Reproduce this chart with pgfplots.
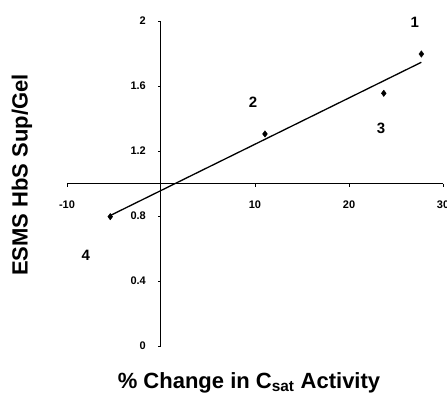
\documentclass[border=0pt]{standalone}
\usepackage{pgfplots}
\pgfplotsset{compat=1.18}
\usepackage{fontspec}
\setmainfont{Liberation Sans}
\begin{document}
\begin{tikzpicture}
\useasboundingbox (-161pt,-48pt) rectangle (286pt,346pt);
\begin{axis}[
  anchor=origin, at={(0pt,0pt)},
  x=9.4pt, y=162.5pt,
  xmin=-10, xmax=30, ymin=0, ymax=2,
  hide axis, clip=false,
]
% axis lines
\draw[line width=1pt] (axis cs:-10,1) -- (axis cs:30,1);
\draw[line width=1pt] (axis cs:0,0) -- (axis cs:0,2);
% y ticks
\draw[line width=0.6pt] (axis cs:0,0) -- ++(-3pt,0pt);
\draw[line width=0.6pt] (axis cs:0,0.4) -- ++(-3pt,0pt);
\draw[line width=0.6pt] (axis cs:0,0.8) -- ++(-3pt,0pt);
\draw[line width=0.6pt] (axis cs:0,1.2) -- ++(-3pt,0pt);
\draw[line width=0.6pt] (axis cs:0,1.6) -- ++(-3pt,0pt);
\draw[line width=0.6pt] (axis cs:0,2) -- ++(-3pt,0pt);
\node[anchor=east,inner sep=0pt,xshift=-15pt,font=\fontsize{11}{12}\selectfont\bfseries] at (axis cs:0,0) {0};
\node[anchor=east,inner sep=0pt,xshift=-15pt,font=\fontsize{11}{12}\selectfont\bfseries] at (axis cs:0,0.4) {0.4};
\node[anchor=east,inner sep=0pt,xshift=-15pt,font=\fontsize{11}{12}\selectfont\bfseries] at (axis cs:0,0.8) {0.8};
\node[anchor=east,inner sep=0pt,xshift=-15pt,font=\fontsize{11}{12}\selectfont\bfseries] at (axis cs:0,1.2) {1.2};
\node[anchor=east,inner sep=0pt,xshift=-15pt,font=\fontsize{11}{12}\selectfont\bfseries] at (axis cs:0,1.6) {1.6};
\node[anchor=east,inner sep=0pt,xshift=-15pt,font=\fontsize{11}{12}\selectfont\bfseries] at (axis cs:0,2) {2};
% x ticks
\draw[line width=0.6pt] (axis cs:-10,1) -- ++(0pt,-3pt);
\draw[line width=0.6pt] (axis cs:10,1) -- ++(0pt,-3pt);
\draw[line width=0.6pt] (axis cs:20,1) -- ++(0pt,-3pt);
\draw[line width=0.6pt] (axis cs:30,1) -- ++(0pt,-3pt);
\node[anchor=north,inner sep=0pt,yshift=-17pt,font=\fontsize{11}{12}\selectfont\bfseries] at (axis cs:-10,1) {-10};
\node[anchor=north,inner sep=0pt,yshift=-17pt,font=\fontsize{11}{12}\selectfont\bfseries] at (axis cs:10,1) {10};
\node[anchor=north,inner sep=0pt,yshift=-17pt,font=\fontsize{11}{12}\selectfont\bfseries] at (axis cs:20,1) {20};
\node[anchor=north,inner sep=0pt,yshift=-17pt,font=\fontsize{11}{12}\selectfont\bfseries] at (axis cs:30,1) {30};
% data
\addplot[only marks, mark=diamond*, mark size=3.2pt, black] coordinates {
  (-5.4,0.796) (11.06,1.305) (23.7,1.555) (27.7,1.797)
};
\addplot[black, line width=1.3pt, no marks] coordinates {
  (-5.4,0.803) (27.7,1.746)
};
% point labels
\node[font=\fontsize{15}{16}\selectfont\bfseries] at (axis cs:27.0,1.994) {1};
\node[font=\fontsize{15}{16}\selectfont\bfseries] at (axis cs:9.8,1.50) {2};
\node[font=\fontsize{15}{16}\selectfont\bfseries] at (axis cs:23.4,1.34) {3};
\node[font=\fontsize{15}{16}\selectfont\bfseries] at (axis cs:-8.0,0.555) {4};
\end{axis}
% axis titles
\node[rotate=90,font=\fontsize{22}{24}\selectfont\bfseries] at (-139pt,171pt) {ESMS HbS Sup/Gel};
\node[font=\fontsize{22}{24}\selectfont\bfseries] at (88pt,-37pt) {\% Change in C\textsubscript{sat} Activity};
\end{tikzpicture}
\end{document}
